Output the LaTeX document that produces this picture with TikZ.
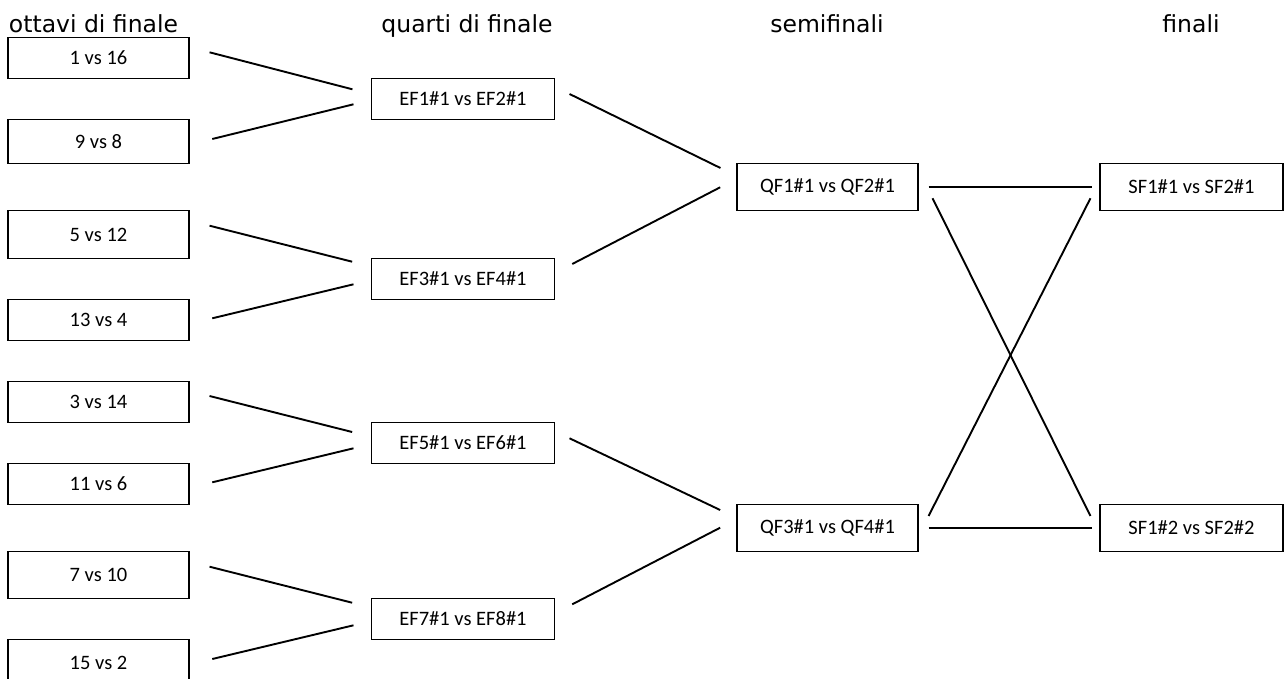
\documentclass[tikz,border=0pt]{standalone}
\usepackage{fontspec}
\setmainfont{Carlito}
\newfontfamily\headfont{DejaVu Sans}
\usepackage{tikz}
\usetikzlibrary{positioning,calc}
\tikzset{match/.style={draw,rectangle,line width=1.1pt,minimum width=181pt,minimum height=41pt,inner sep=0pt,font=\fontsize{20.5}{24}\selectfont}}
\tikzset{head/.style={anchor=base,inner sep=0pt,font=\headfont\fontsize{23.5}{28}\selectfont}}

\begin{document}
\begin{tikzpicture}[x=1pt, y=-1pt, -, line width=1.9pt]
\useasboundingbox (0,0) rectangle (1284,678);
    \node[head,anchor=base west] (H1) at (8,32) {ottavi di finale};
    \node[head] (H2) at (467,32) {quarti di finale};
    \node[head] (H3) at (827,32) {semifinali};
    \node[head] (H4) at (1191,32) {finali};

    \node[match] (O1) at (98.5,57.8) {1 vs 16};
    \node[match,minimum height=44pt] (O2) at (98.5,141.3) {9 vs 8};
    \node[match,minimum height=47.6pt] (O3) at (98.5,234.5) {5 vs 12};
    \node[match] (O4) at (98.5,319.6) {13 vs 4};
    \node[match] (O5) at (98.5,402) {3 vs 14};
    \node[match] (O6) at (98.5,483.8) {11 vs 6};
    \node[match,minimum height=46.7pt] (O7) at (98.5,575) {7 vs 10};
    \node[match,minimum height=46.7pt] (O8) at (98.5,662.6) {15 vs 2};

    \node[match,minimum width=183pt] (Q1) at (463,98.8) {EF1\#1 vs EF2\#1};
    \node[match,minimum width=183pt] (Q2) at (463,278.8) {EF3\#1 vs EF4\#1};
    \node[match,minimum width=183pt] (Q3) at (463,443) {EF5\#1 vs EF6\#1};
    \node[match,minimum width=183pt] (Q4) at (463,618.8) {EF7\#1 vs EF8\#1};

    \node[match,minimum height=46.7pt] (S1) at (827.5,186.7) {QF1\#1 vs QF2\#1};
    \node[match,minimum height=46.7pt] (S2) at (827.5,527.7) {QF3\#1 vs QF4\#1};

    \node[match,minimum width=183pt,minimum height=46.7pt] (F1) at (1191.5,186.7) {SF1\#1 vs SF2\#1};
    \node[match,minimum width=183pt,minimum height=46.7pt] (F2) at (1191.5,527.7) {SF1\#2 vs SF2\#2};

    % ottavi -> quarti
    \draw ([shift={(20,-5.5)}]O1.east) -- ([shift={(-18.5,-9.5)}]Q1.west);
    \draw ([shift={(22.7,-2.3)}]O2.east) -- ([shift={(-17.5,5.5)}]Q1.west);
    \draw ([shift={(20,-8.8)}]O3.east) -- ([shift={(-18.8,-17.1)}]Q2.west);
    \draw ([shift={(22.7,-1.3)}]O4.east) -- ([shift={(-17.5,5.5)}]Q2.west);
    \draw ([shift={(20,-6)}]O5.east) -- ([shift={(-18.8,-11)}]Q3.west);
    \draw ([shift={(22.7,-1.5)}]O6.east) -- ([shift={(-17.5,5.3)}]Q3.west);
    \draw ([shift={(20,-8.3)}]O7.east) -- ([shift={(-18.8,-16.1)}]Q4.west);
    \draw ([shift={(22.7,-3.6)}]O8.east) -- ([shift={(-17.5,6.5)}]Q4.west);

    % quarti -> semifinali
    \draw ([shift={(14.5,-4.8)}]Q1.east) -- ([shift={(-16,-18.7)}]S1.west);
    \draw ([shift={(17.2,-14.8)}]Q2.east) -- ([shift={(-16.3,0.6)}]S1.west);
    \draw ([shift={(14.5,-4.7)}]Q3.east) -- ([shift={(-16.3,-17.7)}]S2.west);
    \draw ([shift={(17.2,-14.5)}]Q4.east) -- ([shift={(-16.3,0)}]S2.west);

    % semifinali -> finali
    \draw ([shift={(10,0.6)}]S1.east) -- ([shift={(-7,0.6)}]F1.west);
    \draw ([shift={(14,11.6)}]S1.east) -- ([shift={(-9,-11.7)}]F2.west);
    \draw ([shift={(10,-11.7)}]S2.east) -- ([shift={(-9,11.6)}]F1.west);
    \draw ([shift={(10,0.6)}]S2.east) -- ([shift={(-7,0.6)}]F2.west);
\end{tikzpicture}
\end{document}
